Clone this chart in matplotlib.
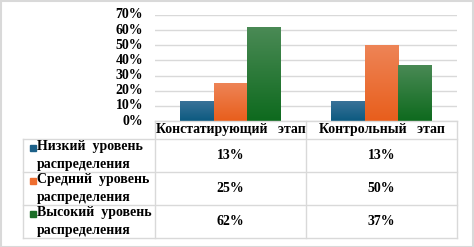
import matplotlib
matplotlib.use("Agg")
import matplotlib.pyplot as plt
import numpy as np
from matplotlib.colors import LinearSegmentedColormap
from matplotlib.lines import Line2D
from matplotlib.patches import Rectangle

categories = ["Констатирующий   этап", "Контрольный   этап"]
series_names = ["Низкий  уровень\nраспределения", "Средний  уровень\nраспределения", "Высокий  уровень\nраспределения"]
low = [0.13, 0.13]
mid = [0.25, 0.50]
high = [0.62, 0.37]
value_labels = [["13%", "13%"], ["25%", "50%"], ["62%", "37%"]]
yticks = [0, 0.1, 0.2, 0.3, 0.4, 0.5, 0.6, 0.7]
ytick_labels = ["0%", "10%", "20%", "30%", "40%", "50%", "60%", "70%"]

colors_top = ["#3a7298", "#ee8456", "#4a8a55"]
colors_bot = ["#0c5a80", "#e85e1c", "#0e6a1e"]
colors_key = ["#1c6088", "#ee6e30", "#1c6e28"]

W, H = 474, 247
fig = plt.figure(figsize=(W / 100, H / 100), dpi=100)
FONT = dict(family="Liberation Serif", weight="bold", color="black")

def fx(x):
    return x / W

def fy(y):
    return 1 - y / H

# plot area
x0, x1, ytop, ybot = 155, 457, 15, 121
ax = fig.add_axes([fx(x0), fy(ybot), fx(x1) - fx(x0), fy(ytop) - fy(ybot)])
ax.set_xlim(-0.5, 1.5)
ax.set_ylim(0, 0.7)
for s in ax.spines.values():
    s.set_visible(False)
ax.set_yticks(yticks)
ax.set_yticklabels([])
ax.tick_params(length=0)
ax.set_xticks([])
ax.grid(axis="y", color="#d9d9d9", linewidth=1)
ax.set_axisbelow(True)

width = 0.222
xs = np.arange(len(categories))
for i, vals in enumerate([low, mid, high]):
    bars = ax.bar(xs + (i - 1) * width, vals, width, color=colors_key[i], zorder=2)
    cmap = LinearSegmentedColormap.from_list("g%d" % i, [colors_bot[i], colors_top[i]])
    for b in bars:
        grad = np.linspace(0, 1, 100).reshape(-1, 1)
        im = ax.imshow(grad, cmap=cmap, origin="lower", aspect="auto",
                       extent=[b.get_x(), b.get_x() + b.get_width(), 0, b.get_height()],
                       zorder=3)
        im.set_clip_path(b)
ax.set_xlim(-0.5, 1.5)
ax.set_ylim(0, 0.7)

# y tick labels
for v, lab in zip(yticks, ytick_labels):
    ypix = ybot - (ybot - ytop) * v / 0.7
    fig.text(fx(143), fy(ypix), lab, ha="right", va="center", fontsize=10, **FONT)

# table lines
gc = "#d9d9d9"
def hline(y, xa, xb):
    fig.add_artist(Line2D([fx(xa), fx(xb)], [fy(y), fy(y)], color=gc, lw=1))
def vline(x, ya, yb):
    fig.add_artist(Line2D([fx(x), fx(x)], [fy(ya), fy(yb)], color=gc, lw=1))

hline(121, 155, 457)
hline(139, 23, 457)
hline(172, 23, 457)
hline(205, 23, 457)
hline(238, 23, 457)
vline(23, 139, 238)
vline(155, 121, 238)
vline(306, 121, 238)
vline(457, 121, 238)

col_centers = [230.5, 381.5]
for c, cat in zip(col_centers, categories):
    fig.text(fx(c), fy(130), cat, ha="center", va="center", fontsize=10, **FONT)

row_centers = [155.5, 188.5, 221.5]
for r, (name, rc) in enumerate(zip(series_names, row_centers)):
    fig.add_artist(Rectangle((fx(30), fy(rc - 4.5)), fx(6), 6 / H,
                             color=colors_key[r], transform=fig.transFigure))
    fig.text(fx(37), fy(rc), name, ha="left", va="center", fontsize=10,
             linespacing=1.45, **FONT)
    for c, c_x in enumerate(col_centers):
        fig.text(fx(c_x), fy(rc), value_labels[r][c], ha="center", va="center",
                 fontsize=10, **FONT)

# outer border
fig.add_artist(Rectangle((0.5 / W, 0.5 / H), 1 - 1.5 / W, 1 - 1.5 / H, fill=False,
                         edgecolor="#d9d9d9", lw=1.5, transform=fig.transFigure))

fig.savefig("out.png", dpi=100)
